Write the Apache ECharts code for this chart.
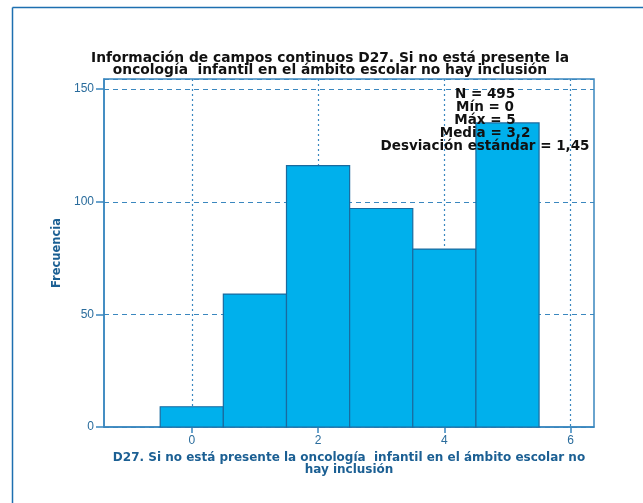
<!DOCTYPE html>
<html>
<head>
<meta charset="utf-8">
<script src="https://cdn.jsdelivr.net/npm/echarts@6/dist/echarts.min.js"></script>
<style>
  html, body { margin: 0; padding: 0; background: #fff; }
  #chart { width: 643px; height: 503px; }
</style>
</head>
<body>
<div id="chart"></div>
<script>
// valores del histograma (D27)
let categorias = [0, 1, 2, 3, 4, 5]
let frecuencias = [9, 59, 116, 97, 79, 135]
let xTicks = [0, 2, 4, 6]
let estadisticos = ['N = 495', 'Mín = 0', 'Máx = 5', 'Media = 3,2', 'Desviación estándar = 1,45']

let tituloTexto = 'Información de campos continuos D27. Si no está presente la\noncología  infantil en el ámbito escolar no hay inclusión'
let ejeXNombre = 'D27. Si no está presente la oncología  infantil en el ámbito escolar no\nhay inclusión'

let azulEje = '#3a87bf'
let azulTexto = '#2a6c9c'
let azulTitulo = '#1b5f93'
let fuenteBold = 'DejaVu Sans, Verdana, sans-serif'
let fuente = 'Liberation Sans, Arial, sans-serif'

let chart = echarts.init(document.getElementById('chart'), null, { renderer: 'canvas' })

let datos = categorias.map((c, i) => [c, frecuencias[i]])

let option = {
    backgroundColor: '#fff',
    animation: false,
    title: [
        {
            text: tituloTexto,
            left: 325,
            top: 47,
            textAlign: 'center',
            textStyle: {
                fontFamily: fuenteBold,
                fontSize: 13.8,
                fontWeight: 'bold',
                color: '#111',
                lineHeight: 12
            }
        },
        {
            text: estadisticos.join('\n'),
            left: 480,
            top: 83,
            textAlign: 'center',
            textStyle: {
                fontFamily: fuenteBold,
                fontSize: 13.5,
                fontWeight: 'bold',
                color: '#111',
                lineHeight: 13
            }
        }
    ],
    grid: {
        left: 104,
        right: 49,
        top: 79,
        bottom: 76,
        show: true,
        borderColor: azulEje,
        borderWidth: 1.5,
        containLabel: false
    },
    xAxis: {
        type: 'value',
        min: -1.39,
        max: 6.37,
        name: ejeXNombre,
        nameLocation: 'middle',
        nameGap: 16,
        nameTextStyle: {
            fontFamily: fuenteBold,
            fontSize: 12,
            fontWeight: 'bold',
            color: azulTitulo,
            lineHeight: 12
        },
        axisLine: { show: true, onZero: false, lineStyle: { color: azulEje, width: 1.5 } },
        axisTick: { show: true, length: 6, customValues: xTicks, lineStyle: { color: azulEje, width: 1.5 } },
        axisLabel: {
            customValues: xTicks,
            color: azulTexto,
            fontFamily: fuente,
            fontSize: 12,
            margin: 8
        },
        splitLine: { show: true, lineStyle: { color: azulEje, type: [2, 3], width: 1.2 } }
    },
    yAxis: {
        type: 'value',
        min: 0,
        max: 154.5,
        interval: 50,
        name: 'Frecuencia',
        nameLocation: 'middle',
        nameGap: 32,
        nameTextStyle: {
            fontFamily: fuenteBold,
            fontSize: 11.5,
            fontWeight: 'bold',
            color: azulTitulo
        },
        axisLine: { show: true, onZero: false, lineStyle: { color: azulEje, width: 1.5 } },
        axisTick: { show: true, length: 8, lineStyle: { color: azulEje, width: 1.5 } },
        axisLabel: {
            showMaxLabel: false,
            color: azulTexto,
            fontFamily: fuente,
            fontSize: 12,
            margin: 10
        },
        splitLine: { show: true, lineStyle: { color: azulEje, type: [5, 4], width: 1.2 } }
    },
    graphic: [
        // marco exterior (izquierda y arriba)
        { type: 'line', shape: { x1: 12.5, y1: 7.5, x2: 643, y2: 7.5 }, style: { stroke: '#1d6fb0', lineWidth: 1.5 } },
        { type: 'line', shape: { x1: 12.5, y1: 7.5, x2: 12.5, y2: 503 }, style: { stroke: '#1d6fb0', lineWidth: 1.5 } }
    ],
    series: [
        {
            type: 'custom',
            z: 3,
            data: datos,
            renderItem: function (params, api) {
                let x = api.value(0)
                let y = api.value(1)
                let p1 = api.coord([x - 0.5, y])
                let p2 = api.coord([x + 0.5, 0])
                return {
                    type: 'rect',
                    shape: { x: p1[0], y: p1[1], width: p2[0] - p1[0], height: p2[1] - p1[1] },
                    style: { fill: '#00b0ec', stroke: '#1a6a9e', lineWidth: 1.2 }
                }
            }
        }
    ]
}

chart.setOption(option)
</script>
</body>
</html>
